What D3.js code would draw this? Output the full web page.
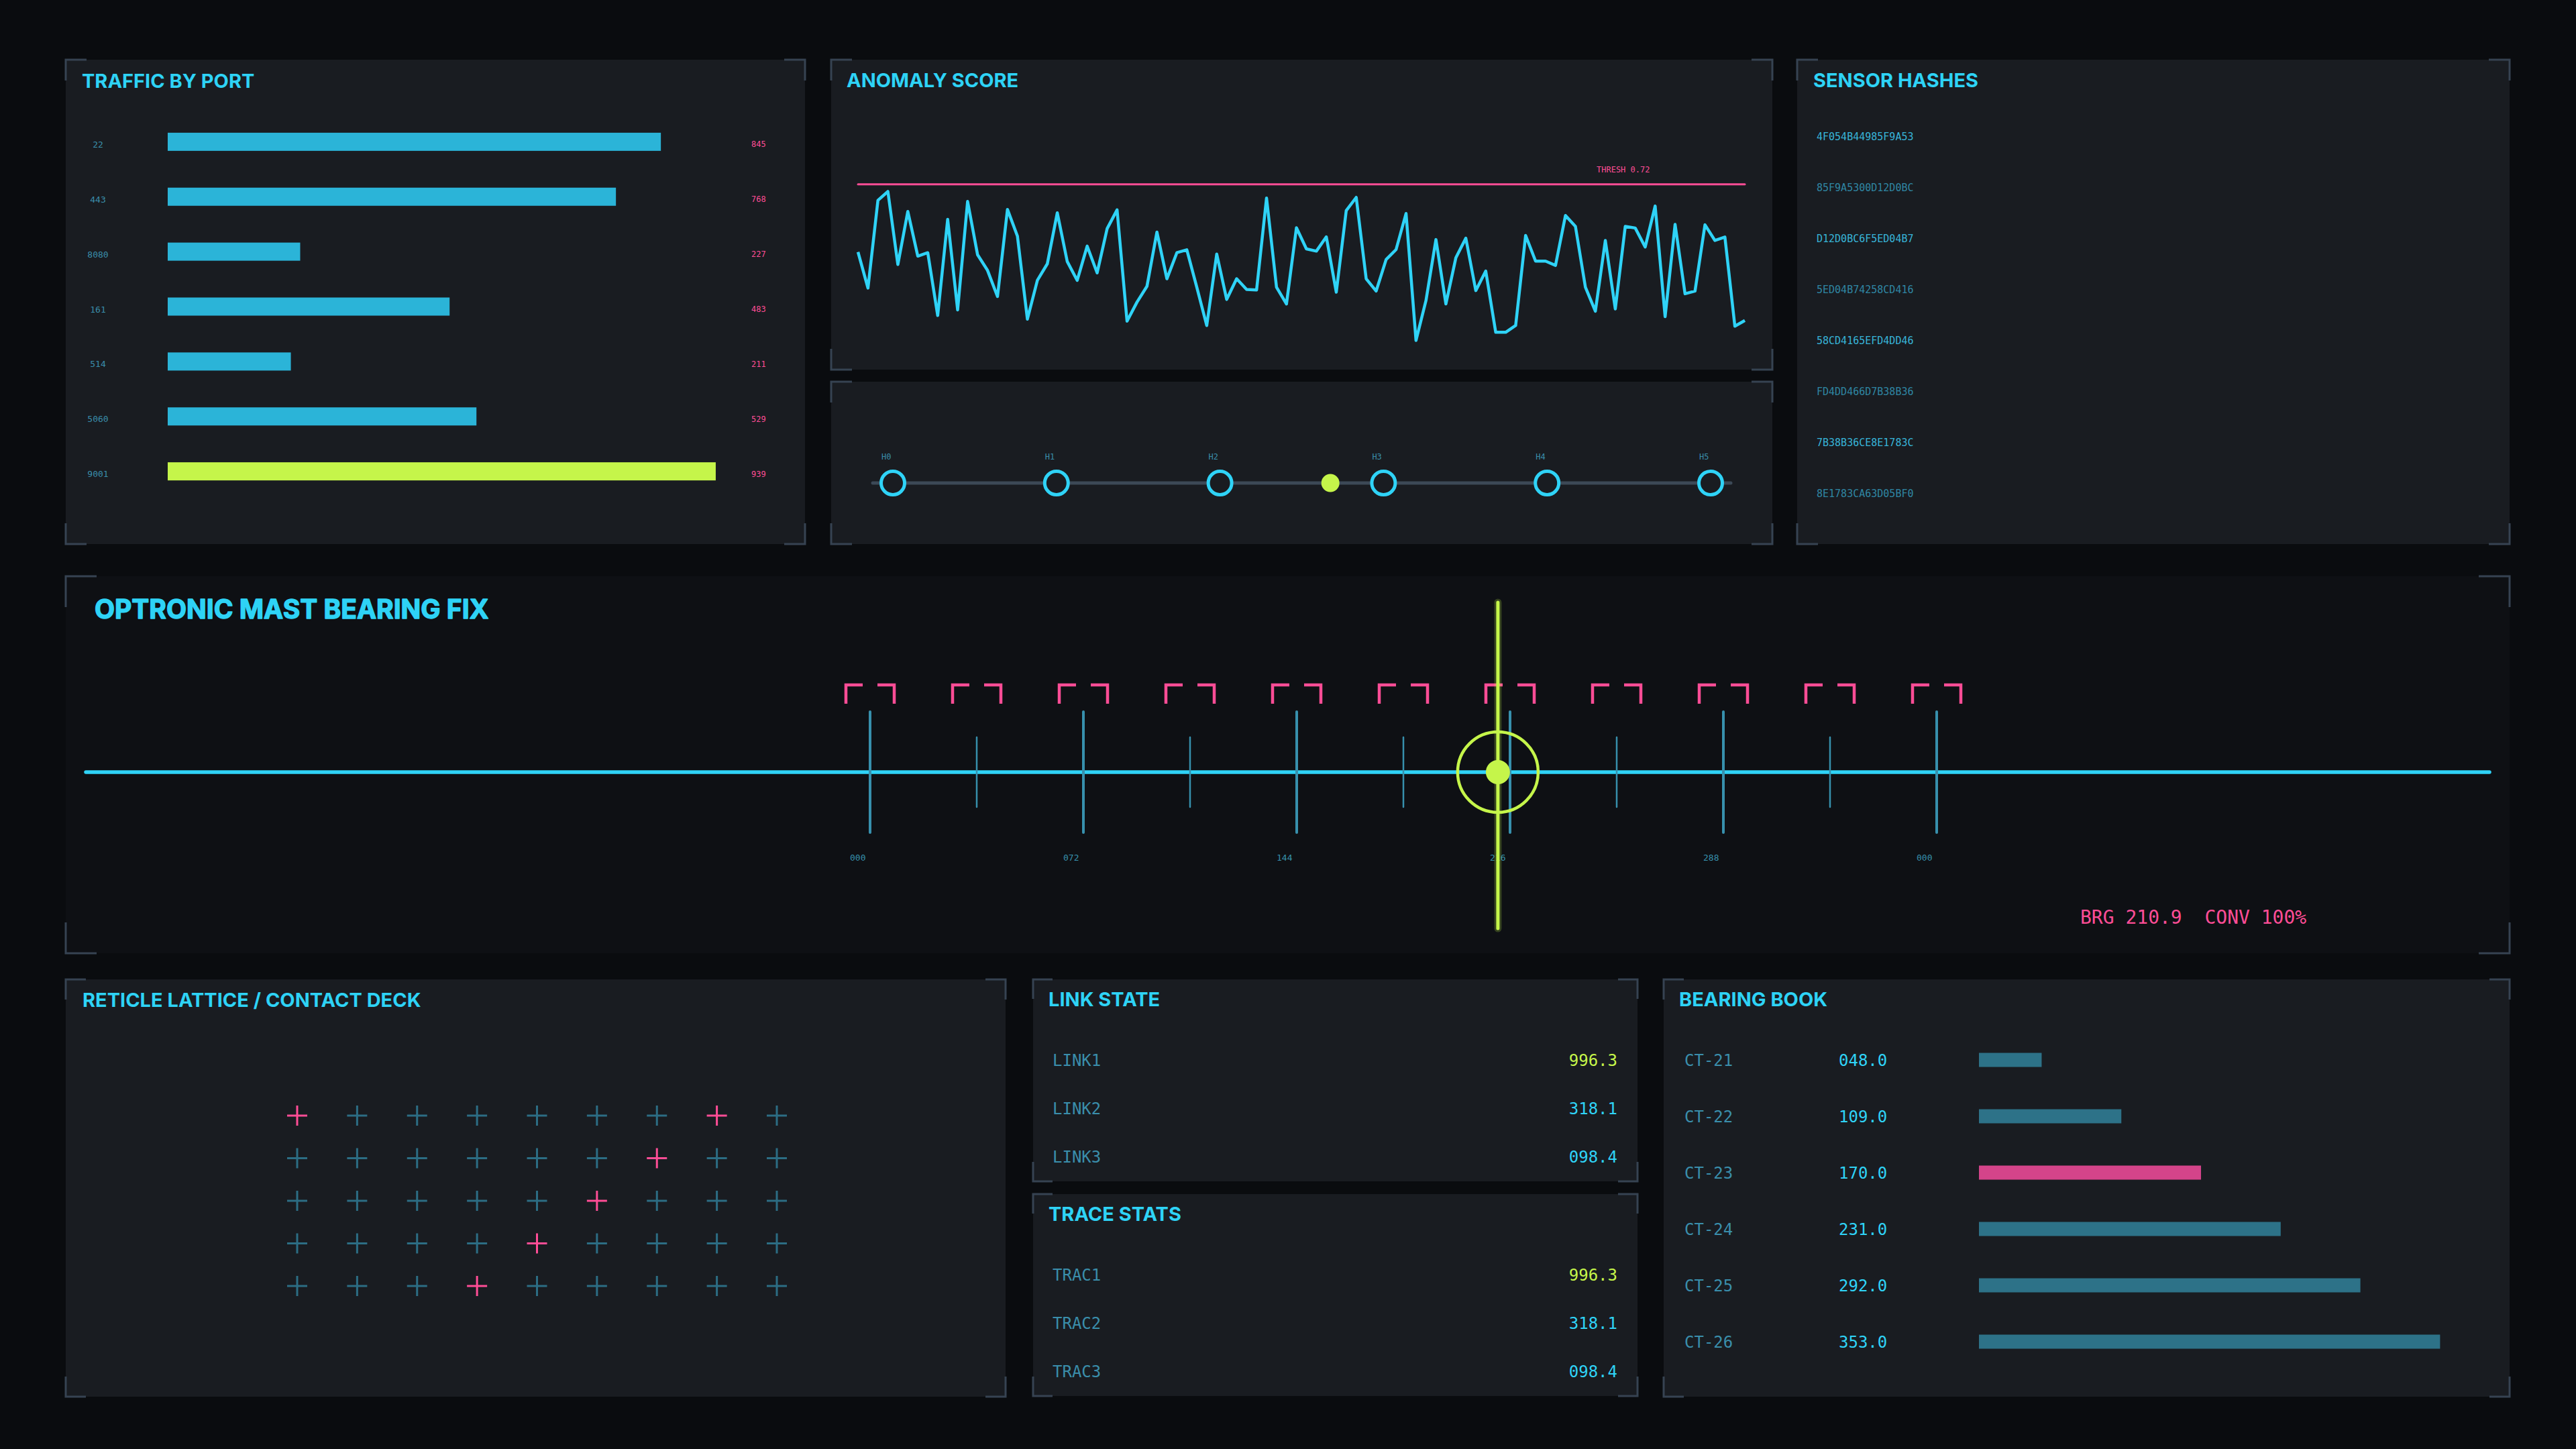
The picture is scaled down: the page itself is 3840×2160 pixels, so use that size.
<!DOCTYPE html>
<html>
<head>
<meta charset="utf-8">
<script src="https://cdn.jsdelivr.net/npm/d3@7"></script>
<style>
  html, body { margin: 0; padding: 0; background: #0a0c0f; }
  svg { display: block; }
  .title { font-family: Inter, "Noto Sans", sans-serif; font-weight: 700; fill: #2ed3f6; }
  .mono { font-family: "DejaVu Sans Mono", monospace; }
</style>
</head>
<body>
<svg id="hud" width="3840" height="2160"></svg>
<script>
// ---- data ----
const PORTS = ['22', '443', '8080', '161', '514', '5060', '9001'];
const PORT_TRAFFIC = [845, 768, 227, 483, 211, 529, 939];

const ANOMALY = [
  0.421, 0.262, 0.649, 0.688, 0.366, 0.600, 0.403, 0.418, 0.141, 0.565,
  0.166, 0.644, 0.409, 0.340, 0.225, 0.609, 0.491, 0.125, 0.296, 0.369,
  0.594, 0.379, 0.296, 0.447, 0.329, 0.524, 0.607, 0.116, 0.200, 0.270,
  0.509, 0.303, 0.418, 0.431, 0.266, 0.097, 0.412, 0.212, 0.303, 0.256,
  0.254, 0.659, 0.266, 0.192, 0.528, 0.435, 0.425, 0.488, 0.244, 0.604,
  0.662, 0.303, 0.249, 0.388, 0.432, 0.591, 0.031, 0.207, 0.476, 0.192,
  0.396, 0.482, 0.251, 0.337, 0.067, 0.067, 0.097, 0.494, 0.381, 0.381,
  0.362, 0.582, 0.534, 0.266, 0.160, 0.472, 0.170, 0.534, 0.527, 0.443,
  0.624, 0.136, 0.543, 0.237, 0.249, 0.541, 0.472, 0.487, 0.094, 0.119
];
const THRESHOLD = 0.72;

const HOPS = ['H0', 'H1', 'H2', 'H3', 'H4', 'H5'];
const HOP_PROGRESS = 2.675;

const HASHES = [
  '4F054B44985F9A53', '85F9A5300D12D0BC', 'D12D0BC6F5ED04B7', '5ED04B74258CD416',
  '58CD4165EFD4DD46', 'FD4DD466D7B38B36', '7B38B36CE8E1783C', '8E1783CA63D05BF0'
];

const BEARING_TICKS = [0, 36, 72, 108, 144, 180, 216, 252, 288, 324, 360];
const FIX_BEARING = 211.9;
const FIX_READOUT = 'BRG 210.9  CONV 100%';

const LATTICE_COLS = [0, 1, 2, 3, 4, 5, 6, 7, 8];
const LATTICE_ROWS = [0, 1, 2, 3, 4];
const LATTICE_HOT = [[0, 0], [0, 7], [1, 6], [2, 5], [3, 4], [4, 3]];

const LINKS = ['LINK1', 'LINK2', 'LINK3'];
const LINK_VALUES = [996.3, 318.1, 98.4];
const TRACES = ['TRAC1', 'TRAC2', 'TRAC3'];
const TRACE_VALUES = [996.3, 318.1, 98.4];

const CONTACTS = ['CT-21', 'CT-22', 'CT-23', 'CT-24', 'CT-25', 'CT-26'];
const CONTACT_BEARINGS = [48, 109, 170, 231, 292, 353];
const CONTACT_HOT = 'CT-23';

// ---- colours ----
const C = {
  panel: '#191c21',
  deep: '#0e1014',
  bracket: '#364352',
  cyan: '#2fd3f7',
  bar: '#2bb4d8',
  label: '#3a8eab',
  lime: '#c5f54a',
  pink: '#ff4d96',
  pinkDim: '#d4448a',
  teal: '#2d7288',
  cross: '#2c6d84',
  track: '#3c4957',
  tick: '#3790ad'
};

const svg = d3.select('#hud');
const fmt1 = d3.format('05.1f');

function panel(x, y, w, h, fill, len) {
  const g = svg.append('g');
  g.append('rect').attr('x', x).attr('y', y).attr('width', w).attr('height', h).attr('fill', fill);
  const p = d3.path();
  p.moveTo(x, y + len); p.lineTo(x, y); p.lineTo(x + len, y);
  p.moveTo(x + w - len, y); p.lineTo(x + w, y); p.lineTo(x + w, y + len);
  p.moveTo(x + w, y + h - len); p.lineTo(x + w, y + h); p.lineTo(x + w - len, y + h);
  p.moveTo(x + len, y + h); p.lineTo(x, y + h); p.lineTo(x, y + h - len);
  g.append('path').attr('d', p.toString()).attr('fill', 'none')
    .attr('stroke', C.bracket).attr('stroke-width', 3);
  return g;
}

function title(g, x, y, text, size, heavy) {
  const t = g.append('text').attr('class', 'title').attr('x', x).attr('y', y)
    .attr('font-size', size).text(text);
  // the big title is a touch heavier than Inter bold
  if (heavy) t.attr('stroke', '#2ed3f6').attr('stroke-width', heavy).attr('stroke-linejoin', 'round');
}

// ---- traffic by port ----
const p1 = panel(98, 89, 1102, 722, C.panel, 31);
title(p1, 122, 131, 'TRAFFIC BY PORT', 29);

const portY = d3.scaleBand().domain(PORTS).range([143, 771]).padding(0.67);
const trafficX = d3.scaleLinear().domain([0, 1000]).range([250, 1120]);
const maxTraffic = d3.max(PORT_TRAFFIC);

p1.selectAll('.bar').data(PORTS).enter().append('rect')
  .attr('x', trafficX(0))
  .attr('y', d => portY(d))
  .attr('width', (d, i) => trafficX(PORT_TRAFFIC[i]) - trafficX(0))
  .attr('height', portY.bandwidth())
  .attr('fill', (d, i) => PORT_TRAFFIC[i] === maxTraffic ? C.lime : C.bar);

p1.selectAll('.plab').data(PORTS).enter().append('text')
  .attr('class', 'mono').attr('font-size', 13).attr('fill', C.label)
  .attr('text-anchor', 'middle')
  .attr('x', 146)
  .attr('y', d => portY(d) + portY.bandwidth() / 2 + 8.5)
  .text(d => d);

p1.selectAll('.pval').data(PORTS).enter().append('text')
  .attr('class', 'mono').attr('font-size', 12).attr('fill', C.pink)
  .attr('x', trafficX(1000))
  .attr('y', d => portY(d) + portY.bandwidth() / 2 + 8)
  .text((d, i) => PORT_TRAFFIC[i]);

// ---- anomaly score ----
const p2 = panel(1239, 89, 1403, 462, C.panel, 31);
title(p2, 1262, 130, 'ANOMALY SCORE', 29);

const ax = d3.scaleLinear().domain([0, ANOMALY.length - 1]).range([1279, 2601]);
const ay = d3.scaleLinear().domain([0, 1]).range([518, 180]);

p2.append('line')
  .attr('x1', ax.range()[0]).attr('x2', ax.range()[1])
  .attr('y1', ay(THRESHOLD)).attr('y2', ay(THRESHOLD))
  .attr('stroke', C.pink).attr('stroke-width', 3).attr('stroke-linecap', 'round');
p2.append('text').attr('class', 'mono').attr('font-size', 12).attr('fill', C.pink)
  .attr('x', 2380).attr('y', ay(THRESHOLD) - 18)
  .text('THRESH ' + THRESHOLD.toFixed(2));

p2.append('path').datum(ANOMALY)
  .attr('fill', 'none').attr('stroke', C.cyan).attr('stroke-width', 4.5)
  .attr('stroke-linejoin', 'round')
  .attr('d', d3.line().x((d, i) => ax(i)).y(d => ay(d)));

// ---- hop track ----
const p3 = panel(1239, 569, 1403, 242, C.panel, 31);
const hx = d3.scaleLinear().domain([0, HOPS.length - 1]).range([1331, 2550]);
const hy = 720;

p3.append('line')
  .attr('x1', hx(0) - 30).attr('x2', hx(HOPS.length - 1) + 30)
  .attr('y1', hy).attr('y2', hy)
  .attr('stroke', C.track).attr('stroke-width', 5).attr('stroke-linecap', 'round');
p3.selectAll('.hop').data(HOPS).enter().append('circle')
  .attr('cx', (d, i) => hx(i)).attr('cy', hy).attr('r', 17.5)
  .attr('fill', C.panel).attr('stroke', C.cyan).attr('stroke-width', 5);
p3.selectAll('.hlab').data(HOPS).enter().append('text')
  .attr('class', 'mono').attr('font-size', 12).attr('fill', C.label)
  .attr('x', (d, i) => hx(i) - 17).attr('y', hy - 35)
  .text(d => d);
p3.append('circle').attr('cx', hx(HOP_PROGRESS)).attr('cy', hy).attr('r', 13.5).attr('fill', C.lime);

// ---- sensor hashes ----
const p4 = panel(2679, 89, 1062, 722, C.panel, 31);
title(p4, 2703, 130, 'SENSOR HASHES', 29);
const hashY = d3.scalePoint().domain(d3.range(HASHES.length)).range([209, 741]);
p4.selectAll('.hash').data(HASHES).enter().append('text')
  .attr('class', 'mono').attr('font-size', 15)
  .attr('fill', (d, i) => i % 2 === 0 ? '#37b4d8' : '#2f86a3')
  .attr('x', 2708).attr('y', (d, i) => hashY(i))
  .text(d => d);

// ---- optronic mast bearing fix ----
const p5 = panel(98, 859, 3643, 562, C.deep, 46);
title(p5, 141, 922, 'OPTRONIC MAST BEARING FIX', 39, 1.4);

const bx = d3.scaleLinear().domain([0, 360]).range([1297, 2887]);
const by = 1151;

p5.append('line').attr('x1', 128).attr('x2', 3711).attr('y1', by).attr('y2', by)
  .attr('stroke', C.cyan).attr('stroke-width', 5.5).attr('stroke-linecap', 'round');

const isMajor = d => d % 72 === 0;
p5.selectAll('.btick').data(BEARING_TICKS).enter().append('line')
  .attr('x1', d => bx(d)).attr('x2', d => bx(d))
  .attr('y1', d => by - (isMajor(d) ? 90 : 52))
  .attr('y2', d => by + (isMajor(d) ? 90 : 52))
  .attr('stroke', C.tick).attr('stroke-width', d => isMajor(d) ? 4 : 2.5)
  .attr('stroke-linecap', 'round');

p5.selectAll('.blab').data(BEARING_TICKS.filter(isMajor)).enter().append('text')
  .attr('class', 'mono').attr('font-size', 13).attr('fill', C.tick)
  .attr('x', d => bx(d) - 30).attr('y', by + 132)
  .text(d => d3.format('03d')(d % 360));

p5.selectAll('.bracket').data(BEARING_TICKS).enter().append('path')
  .attr('fill', 'none').attr('stroke', C.pink).attr('stroke-width', 4.5)
  .attr('d', d => {
    const x = bx(d), t = by - 130, b = by - 102;
    return 'M' + (x - 36) + ',' + b + 'V' + t + 'H' + (x - 11) +
      'M' + (x + 11) + ',' + t + 'H' + (x + 36) + 'V' + b;
  });

const fx = bx(FIX_BEARING);
p5.append('line').attr('x1', fx).attr('x2', fx).attr('y1', 898).attr('y2', 1384)
  .attr('stroke', C.lime).attr('stroke-opacity', 0.22).attr('stroke-width', 11)
  .attr('stroke-linecap', 'round');
p5.append('line').attr('x1', fx).attr('x2', fx).attr('y1', 898).attr('y2', 1384)
  .attr('stroke', C.lime).attr('stroke-width', 5).attr('stroke-linecap', 'round');
p5.append('circle').attr('cx', fx).attr('cy', by).attr('r', 60)
  .attr('fill', 'none').attr('stroke', C.lime).attr('stroke-width', 4.5);
p5.append('circle').attr('cx', fx).attr('cy', by).attr('r', 18).attr('fill', C.lime);

p5.append('text').attr('class', 'mono').attr('font-size', 28).attr('fill', C.pink)
  .attr('x', 3101).attr('y', 1377).attr('xml:space', 'preserve')
  .style('white-space', 'pre')
  .text(FIX_READOUT);

// ---- reticle lattice ----
const p6 = panel(98, 1460, 1401, 622, C.panel, 30);
title(p6, 123, 1501, 'RETICLE LATTICE / CONTACT DECK', 29);
const lx = d3.scalePoint().domain(LATTICE_COLS).range([443, 1158]);
const ly = d3.scalePoint().domain(LATTICE_ROWS).range([1663, 1917]);
const cells = [];
LATTICE_ROWS.forEach(r => LATTICE_COLS.forEach(c => {
  cells.push({ r, c, hot: LATTICE_HOT.some(h => h[0] === r && h[1] === c) });
}));
p6.selectAll('.cross').data(cells).enter().append('path')
  .attr('fill', 'none').attr('stroke-width', 3)
  .attr('stroke', d => d.hot ? C.pink : C.cross)
  .attr('d', d => {
    const x = lx(d.c), y = ly(d.r);
    return 'M' + (x - 15) + ',' + y + 'H' + (x + 15) + 'M' + x + ',' + (y - 15) + 'V' + (y + 15);
  });

// ---- link state / trace stats ----
function statPanel(y, name, labels, values) {
  const g = panel(1540, y, 901, 301, C.panel, 29);
  title(g, 1563, y + 40, name, 29);
  const sy = d3.scalePoint().domain(labels).range([y + 120, y + 264]);
  g.selectAll('.slab').data(labels).enter().append('text')
    .attr('class', 'mono').attr('font-size', 24).attr('fill', C.label)
    .attr('x', 1569).attr('y', d => sy(d) + 9).text(d => d);
  g.selectAll('.sval').data(labels).enter().append('text')
    .attr('class', 'mono').attr('font-size', 24).attr('text-anchor', 'end')
    .attr('fill', (d, i) => i === 0 ? C.lime : C.cyan)
    .attr('x', 2411).attr('y', d => sy(d) + 9)
    .text((d, i) => fmt1(values[i]));
}
statPanel(1460, 'LINK STATE', LINKS, LINK_VALUES);
statPanel(1780, 'TRACE STATS', TRACES, TRACE_VALUES);

// ---- bearing book ----
const p9 = panel(2480, 1460, 1261, 622, C.panel, 30);
title(p9, 2503, 1500, 'BEARING BOOK', 29);
const cy = d3.scalePoint().domain(CONTACTS).range([1580, 2000]);
const cx = d3.scaleLinear().domain([0, 360]).range([2950, 3651]);
p9.selectAll('.clab').data(CONTACTS).enter().append('text')
  .attr('class', 'mono').attr('font-size', 24).attr('fill', C.label)
  .attr('x', 2511).attr('y', d => cy(d) + 9).text(d => d);
p9.selectAll('.cval').data(CONTACTS).enter().append('text')
  .attr('class', 'mono').attr('font-size', 24).attr('fill', C.cyan)
  .attr('x', 2741).attr('y', d => cy(d) + 9)
  .text((d, i) => fmt1(CONTACT_BEARINGS[i]));
p9.selectAll('.cbar').data(CONTACTS).enter().append('rect')
  .attr('x', cx(0)).attr('y', d => cy(d) - 10.5)
  .attr('width', (d, i) => cx(CONTACT_BEARINGS[i]) - cx(0))
  .attr('height', 21)
  .attr('fill', d => d === CONTACT_HOT ? C.pinkDim : C.teal);
</script>
</body>
</html>
